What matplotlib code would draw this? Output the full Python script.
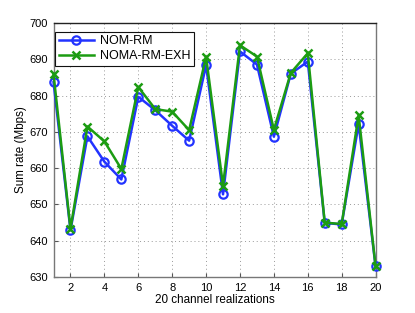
import matplotlib

matplotlib.use("Agg")
import matplotlib.pyplot as plt

realizations = list(range(1, 21))
nom_rm = [683.7, 642.9, 668.8, 661.8, 656.9, 679.7, 676.0, 671.7, 667.6, 688.4,
          652.8, 692.2, 688.6, 668.7, 686.1, 689.4, 644.9, 644.5, 672.2, 632.9]
noma_rm_exh = [685.9, 643.3, 671.5, 667.4, 659.8, 682.4, 676.3, 675.6, 670.5, 690.7,
               655.2, 693.9, 690.8, 670.6, 686.3, 691.7, 645.0, 644.6, 674.6, 633.0]
x_ticks = list(range(2, 21, 2))
y_ticks = list(range(630, 701, 10))

plt.rcParams["font.family"] = ["Liberation Sans", "DejaVu Sans"]
plt.rcParams["font.size"] = 8

fig = plt.figure(figsize=(4.15, 3.13), dpi=100)
ax = fig.add_axes([0.129, 0.115, 0.776, 0.811])

ax.plot(realizations, nom_rm, color="#2233ff", lw=1.8, marker="o", ms=6,
        mfc="none", mew=1.6, label="NOM-RM", clip_on=False, zorder=3)
ax.plot(realizations, noma_rm_exh, color="#1c9c12", lw=1.8, marker="x", ms=6,
        mew=1.8, label="NOMA-RM-EXH", clip_on=False, zorder=4)

ax.set_xlim(1, 20)
ax.set_ylim(630, 700)
ax.set_xticks(x_ticks)
ax.set_yticks(y_ticks)
ax.tick_params(direction="in", length=3, color="#555555", pad=4)
ax.grid(True, ls=(0, (1, 3)), color="#999999", lw=0.7)
for name, sp in ax.spines.items():
    sp.set_color("#222222" if name == "top" else "#777777")
    sp.set_linewidth(1.0)

ax.set_xlabel("20 channel realizations", fontsize=8.4, labelpad=1)
ax.set_ylabel("Sum rate (Mbps)", fontsize=8.4, labelpad=2)

leg = ax.legend(loc="upper left", bbox_to_anchor=(0.004, 0.967), borderaxespad=0,
                fontsize=9, fancybox=False, framealpha=1, edgecolor="#111111",
                borderpad=0.3, handlelength=2.8, handletextpad=0.5,
                labelspacing=0.25)
leg.get_frame().set_linewidth(0.8)

fig.savefig("out.png", dpi=100)
plt.close(fig)
